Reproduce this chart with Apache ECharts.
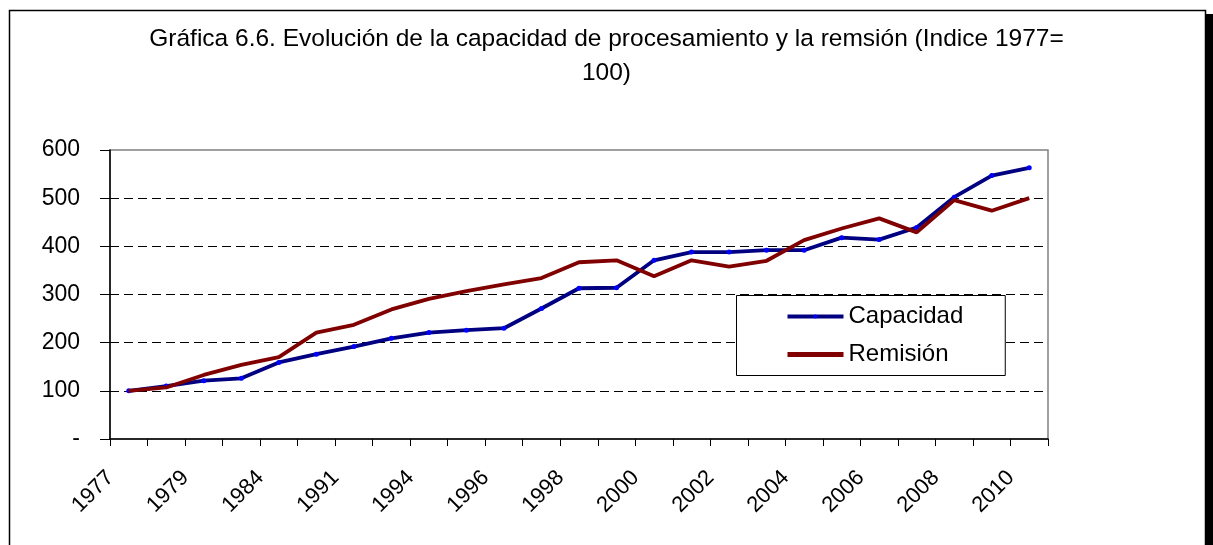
<!DOCTYPE html>
<html>
<head>
<meta charset="utf-8">
<script src="https://cdn.jsdelivr.net/npm/echarts@6/dist/echarts.min.js"></script>
<style>
html,body{margin:0;padding:0;background:#fff;}
#chart{width:1213px;height:545px;}
</style>
</head>
<body>
<div id="chart"></div>
<script>
var titleText = 'Gráfica 6.6. Evolución de la capacidad de procesamiento y la remsión (Indice 1977=\n100)';
var years = ['1977','1978','1979','1981','1984','1990','1991','1993','1994','1995','1996','1997','1998','1999','2000','2001','2002','2003','2004','2005','2006','2007','2008','2009','2010'];
var capacidad = [100,110,121,126,159,176,192,209,221,226,230,271,313,314,371,388,388,392,392,418,414,439,502,547,563];
var remision  = [100,107,133,154,170,221,237,269,291,307,321,334,367,371,338,371,358,370,413,437,458,429,496,474,500];
var yMin = 0, yMax = 600, yStep = 100;

var FONT = "'Liberation Sans', Arial, sans-serif";
var chart = echarts.init(document.getElementById('chart'), null, {renderer:'canvas'});
chart.setOption({
  animation: false,
  backgroundColor: '#fff',
  title: {
    text: titleText,
    left: 'center',
    top: 22,
    padding: 0,
    textStyle: {fontFamily: FONT, fontSize: 24.5, fontWeight: 'normal', color: '#000', lineHeight: 34}
  },
  graphic: [
    {type:'rect', shape:{x:1206, y:14, width:7, height:600}, style:{fill:'#000'}, z:0, silent:true},
    {type:'rect', shape:{x:9.5, y:10.5, width:1196, height:600}, style:{fill:'none', stroke:'#000', lineWidth:1.5}, z:0, silent:true}
  ],
  legend: {
    orient: 'vertical',
    left: 736.5,
    top: 295.5,
    padding: [9, 42, 9, 49],
    borderColor: '#000',
    borderWidth: 1,
    backgroundColor: '#fff',
    itemWidth: 56,
    itemHeight: 5,
    itemGap: 14,
    lineStyle: {width: 4},
    textStyle: {fontFamily: FONT, fontSize: 24, color: '#000', lineHeight: 24},
    data: [
      {name: 'Capacidad'},
      {name: 'Remisión', icon: 'rect', itemStyle: {color: '#800000'}}
    ]
  },
  grid: {
    left: 110, top: 150, width: 938, height: 289,
    show: true, borderColor: '#808080', borderWidth: 1.5, backgroundColor: 'transparent'
  },
  xAxis: {
    type: 'category',
    data: years,
    boundaryGap: true,
    axisLine: {lineStyle: {color: '#000', width: 1.5}},
    axisTick: {show: true, interval: 0, length: 7, lineStyle: {color: '#000', width: 1}},
    axisLabel: {interval: 1, rotate: 45, margin: 17, padding: [0, 26, 0, 0], fontFamily: FONT, fontSize: 22, color: '#000'},
    splitLine: {show: false}
  },
  yAxis: {
    type: 'value',
    min: yMin, max: yMax, interval: yStep,
    axisLine: {show: true, lineStyle: {color: '#000', width: 1.5}},
    axisTick: {show: true, length: 10, lineStyle: {color: '#000', width: 1}},
    axisLabel: {margin: 30, fontFamily: FONT, fontSize: 23, color: '#000',
      formatter: function(v){ return v === 0 ? '-' : String(v); }},
    splitLine: {show: true, showMaxLine: false, showMinLine: false, lineStyle: {color: '#000', type: [9, 5], width: 1}}
  },
  series: [
    {
      name: 'Capacidad', type: 'line', data: capacidad,
      symbol: 'circle', symbolSize: 5, showSymbol: true,
      lineStyle: {color: '#000080', width: 3.8},
      itemStyle: {color: '#0000ff', borderWidth: 0},
      z: 2
    },
    {
      name: 'Remisión', type: 'line', data: remision,
      symbol: 'none', showSymbol: false,
      lineStyle: {color: '#800000', width: 3.8},
      itemStyle: {color: '#800000'},
      z: 3
    }
  ]
});
</script>
</body>
</html>
